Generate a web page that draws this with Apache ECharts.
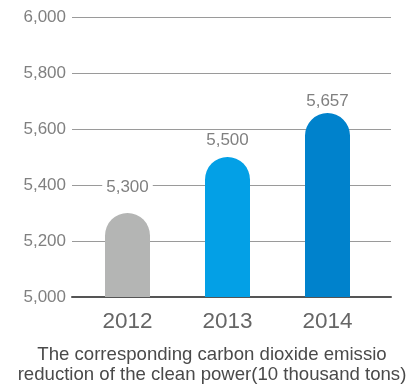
<!DOCTYPE html>
<html>
<head>
<meta charset="utf-8">
<script src="https://cdn.jsdelivr.net/npm/echarts@6/dist/echarts.min.js"></script>
<style>
  html, body { margin: 0; padding: 0; background: #fff; }
  #chart { width: 408px; height: 389px; }
</style>
</head>
<body>
<div id="chart"></div>
<script>
// Emission reduction from clean power, in units of 10 thousand tons
const years = ['2012', '2013', '2014'];
const reduction = [5300, 5500, 5657];
const barColors = ['#b4b5b4', '#03a0e6', '#0082cc'];
const labelGaps = [17, 8, 3];
const yTicks = { min: 5000, max: 6000, step: 200 };
const caption = 'The corresponding carbon dioxide emissio\nreduction of the clean power(10 thousand tons)';

const fontFamily = '"Liberation Sans", Arial, sans-serif';
const fmt = v => v.toLocaleString('en-US');

const chart = echarts.init(document.getElementById('chart'), null, { renderer: 'canvas' });

chart.setOption({
  animation: false,
  title: {
    text: caption,
    left: 207,
    top: 340,
    textAlign: 'center',
    textStyle: {
      fontFamily, fontSize: 18.6, fontWeight: 'normal', color: '#4a4a4a', lineHeight: 20
    }
  },
  grid: [
    { left: 72, right: 17, top: 17, bottom: 92 },
    { left: 77.5, width: 300, top: 17, bottom: 92 }
  ],
  xAxis: [
    {
      gridIndex: 0, type: 'category', data: years,
      axisLine: { show: true, lineStyle: { color: '#555', width: 2 } },
      axisTick: { show: false }, axisLabel: { show: false }
    },
    {
      gridIndex: 1, type: 'category', data: years,
      axisLine: { show: false }, axisTick: { show: false },
      axisLabel: { fontFamily, fontSize: 22.5, color: '#666', margin: 13 }
    }
  ],
  yAxis: [
    {
      gridIndex: 0, type: 'value',
      min: yTicks.min, max: yTicks.max, interval: yTicks.step,
      axisLine: { show: false }, axisTick: { show: false },
      axisLabel: { fontFamily, fontSize: 17, color: '#808080', margin: 6, formatter: fmt },
      splitLine: { lineStyle: { color: '#9a9a9a', width: 1 } }
    },
    {
      gridIndex: 1, type: 'value',
      min: yTicks.min, max: yTicks.max, show: false,
      splitLine: { show: false }
    }
  ],
  series: [{
    type: 'bar',
    xAxisIndex: 1, yAxisIndex: 1,
    barWidth: 45,
    data: reduction.map((v, i) => ({
      value: v,
      itemStyle: { color: barColors[i], borderRadius: [22.5, 22.5, 0, 0] },
      label: { distance: labelGaps[i] }
    })),
    label: {
      show: true, position: 'top',
      fontFamily, fontSize: 17, color: '#808080',
      backgroundColor: '#fff', padding: [0, 4],
      formatter: p => fmt(p.value)
    }
  }]
});
</script>
</body>
</html>
